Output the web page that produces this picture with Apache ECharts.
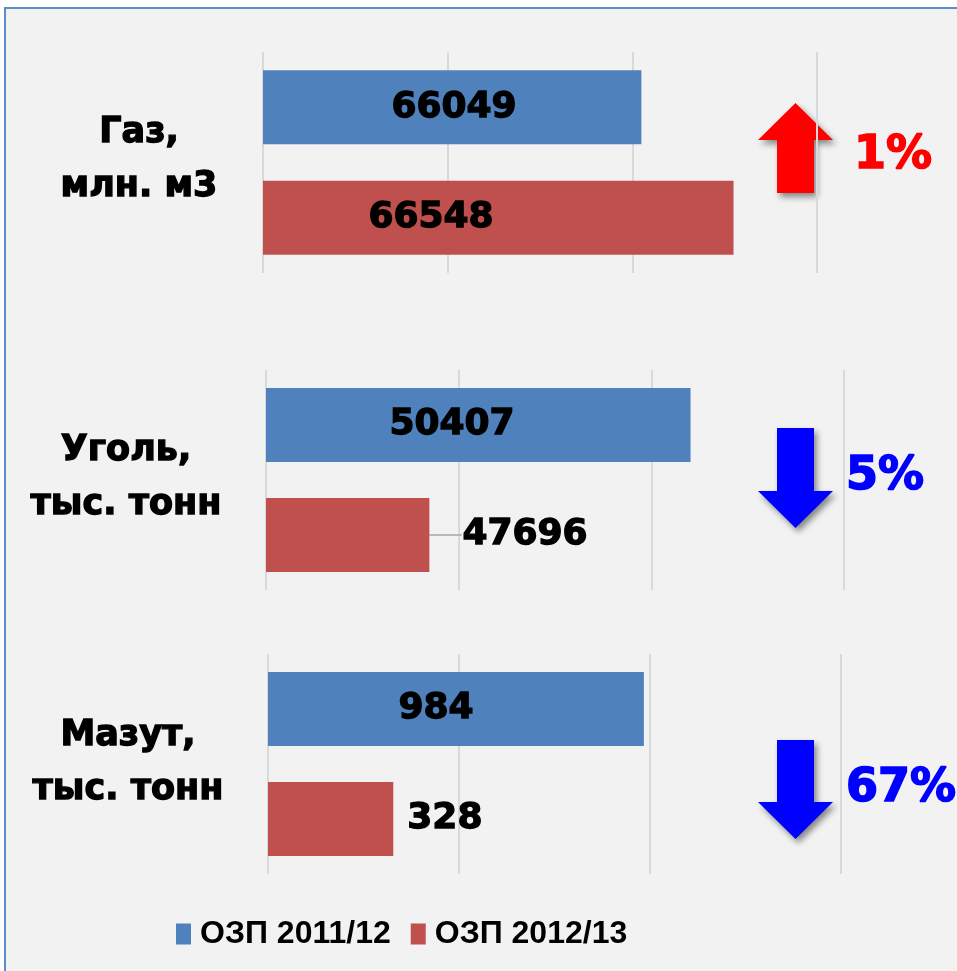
<!DOCTYPE html>
<html>
<head>
<meta charset="utf-8">
<script src="https://cdn.jsdelivr.net/npm/echarts@6/dist/echarts.min.js"></script>
<style>
html, body { margin: 0; padding: 0; background: #fff; }
#chart { width: 957px; height: 971px; }
</style>
</head>
<body>
<div id="chart"></div>
<script>
// fuels and seasons
var fuelLabels = ['Газ,\nмлн. м3', 'Уголь,\nтыс. тонн', 'Мазут,\nтыс. тонн'];
var seasons = ['ОЗП 2011/12', 'ОЗП 2012/13'];
var season2011 = [66049, 50407, 984];
var season2012 = [66548, 47696, 328];
var changePct = [1, -5, -67];
// each panel has its own value axis
var axisMin = [64000, 46000, 0];
var axisMax = [67000, 52000, 1500];
var axisStep = [1000, 2000, 500];

var blue = '#4f81bd', red = '#c0504d';
var boldFont = '"DejaVu Sans", sans-serif';

var grids = [
	{ left: 263, right: 140, top: 52, height: 221 },
	{ left: 266, right: 113, top: 370, height: 220 },
	{ left: 268, right: 116, top: 654, height: 220 }
];
// where the text and arrows sit, per panel
var fuelText = [[139, 160], [126, 478], [128, 763]];
var pctText = [[893, 156], [885, 477], [901, 789]];
var arrowBox = [[103, 193], [428, 528], [740, 839]];

var labelBase = {
	show: true, color: '#000', fontFamily: boldFont, fontWeight: 'bold', fontSize: 36,
	textBorderColor: '#000', textBorderWidth: 1.3
};
function insideLabel(dx) {
	return Object.assign({}, labelBase, { position: [dx, '50%'], align: 'center', verticalAlign: 'middle' });
}
var blueLabels = [insideLabel(191), insideLabel(186), insideLabel(168)];
var redLabels = [
	insideLabel(168),
	Object.assign({}, labelBase, { position: 'right', distance: 5 }),
	Object.assign({}, labelBase, { position: 'right', distance: 14 })
];

var xAxes = [], yAxes = [], series = [];
for (var i = 0; i < 3; i++) {
	xAxes.push({
		type: 'value', gridIndex: i, min: axisMin[i], max: axisMax[i], interval: axisStep[i],
		axisLine: { show: false }, axisTick: { show: false }, axisLabel: { show: false },
		splitLine: { show: true, lineStyle: { color: '#d9d9d9', width: 2 } }
	});
	yAxes.push({
		type: 'category', gridIndex: i, data: ['a', 'b'], inverse: true,
		axisLine: { show: false }, axisTick: { show: false }, axisLabel: { show: false }
	});
	series.push({
		type: 'bar', name: seasons[0], xAxisIndex: i, yAxisIndex: i,
		barWidth: 74, barGap: '-100%', silent: true,
		itemStyle: { color: blue },
		label: blueLabels[i],
		data: [season2011[i], '-']
	});
	var red2 = {
		type: 'bar', name: seasons[1], xAxisIndex: i, yAxisIndex: i,
		barWidth: 74, barGap: '-100%', silent: true,
		itemStyle: { color: red },
		label: redLabels[i],
		data: ['-', season2012[i]]
	};
	if (i === 1) {
		red2.labelLayout = { dx: 28 };
		red2.labelLine = { show: true, lineStyle: { color: '#a6a6a6', width: 1.5 } };
	}
	series.push(red2);
}

function arrowPoints(up, top, bottom) {
	var cx = 795.5, hw = 37.5, sw = 18.5, head = 37;
	if (up) {
		return [[cx, top], [cx + hw, top + head], [cx + sw, top + head], [cx + sw, bottom],
			[cx - sw, bottom], [cx - sw, top + head], [cx - hw, top + head]];
	}
	return [[cx - sw, top], [cx + sw, top], [cx + sw, bottom - head], [cx + hw, bottom - head],
		[cx, bottom], [cx - hw, bottom - head], [cx - sw, bottom - head]];
}

var graphics = [{
	type: 'rect', z: -10, silent: true,
	shape: { x: 5, y: 8, width: 1000, height: 1000 },
	style: { fill: '#f2f2f2', stroke: '#5b8ccc', lineWidth: 2 }
}];
for (var k = 0; k < 3; k++) {
	var up = changePct[k] > 0;
	var col = up ? '#ff0000' : '#0000ff';
	graphics.push({
		type: 'text', silent: true,
		style: {
			text: fuelLabels[k], x: fuelText[k][0], y: fuelText[k][1],
			align: 'center', verticalAlign: 'middle', lineHeight: 54,
			font: 'bold 35px ' + boldFont, fill: '#000', stroke: '#000', lineWidth: 1.3
		}
	});
	graphics.push({
		type: 'polygon', silent: true,
		shape: { points: arrowPoints(up, arrowBox[k][0], arrowBox[k][1]) },
		style: { fill: col, shadowBlur: 6, shadowOffsetX: 3, shadowOffsetY: 4, shadowColor: 'rgba(0,0,0,0.45)' }
	});
	graphics.push({
		type: 'text', silent: true,
		style: {
			text: Math.abs(changePct[k]) + '%', x: pctText[k][0], y: pctText[k][1],
			align: 'center', verticalAlign: 'middle',
			font: 'bold 46px ' + boldFont, fill: col, stroke: col, lineWidth: 1.6
		}
	});
}

var myChart = echarts.init(document.getElementById('chart'));
myChart.setOption({
	animation: false,
	backgroundColor: '#fff',
	grid: grids,
	xAxis: xAxes,
	yAxis: yAxes,
	legend: {
		data: seasons, left: 171, top: 913, icon: 'rect',
		itemWidth: 15, itemHeight: 21, itemGap: 20,
		textStyle: { fontFamily: '"Liberation Sans", sans-serif', fontWeight: 'bold', fontSize: 32, color: '#000', padding: [0, 0, 0, 4] }
	},
	graphic: graphics,
	series: series
});
</script>
</body>
</html>
